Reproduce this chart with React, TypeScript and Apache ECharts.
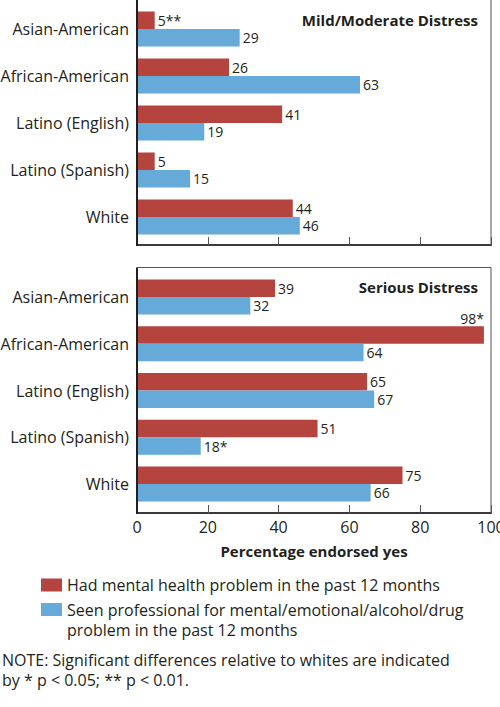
import React, { useEffect, useRef } from "react";
import * as echarts from "echarts";

const categories = ["Asian-American", "African-American", "Latino (English)", "Latino (Spanish)", "White"];
const seriesNames = [
  "Had mental health problem in the past 12 months",
  "Seen professional for mental/emotional/alcohol/drug problem in the past 12 months",
];
const panelTitles = ["Mild/Moderate Distress", "Serious Distress"];
// Mild/Moderate distress
const mildProblem = [5, 26, 41, 5, 44];
const mildSeen = [29, 63, 19, 15, 46];
const mildProblemSig = ["**", "", "", "", ""];
const mildSeenSig = ["", "", "", "", ""];
// Serious distress
const seriousProblem = [39, 98, 65, 51, 75];
const seriousSeen = [32, 64, 67, 18, 66];
const seriousProblemSig = ["", "*", "", "", ""];
const seriousSeenSig = ["", "", "", "*", ""];
const xTicks = [0, 20, 40, 60, 80, 100];
const axisTitle = "Percentage endorsed yes";
const noteLines = [
  "NOTE: Significant differences relative to whites are indicated",
  "by * p < 0.05; ** p < 0.01.",
];

const RED = "#b5443f";
const BLUE = "#65aad8";
const INK = "#231f20";
const FONT = "Open Sans";

export default function App() {
  const ref = useRef<HTMLDivElement>(null);
  useEffect(() => {
    document.body.style.margin = "0";
    if (!ref.current) return;
    const chart = echarts.init(ref.current, undefined, { renderer: "svg" });
    const L = 137, W = 354;
    const grids = [
      { left: L, top: 5.5, width: W, height: 235, outerBoundsMode: "none", containLabel: false },
      { left: L, top: 273.5, width: W, height: 234, outerBoundsMode: "none", containLabel: false },
    ];
    const boxes = [
      { top: -2, bottom: 245 },
      { top: 267.5, bottom: 513 },
    ];
    const mkData = (vals: number[], sig: string[]) =>
      vals.map((v, i) => {
        const item: any = { value: v, sig: sig[i] };
        if (v > 90) {
          item.label = { position: ["100%", -1], align: "right", verticalAlign: "bottom", distance: 0 };
        }
        return item;
      });
    const labelCfg = {
      show: true,
      position: "right",
      distance: 3,
      fontFamily: FONT,
      fontSize: 14,
      color: INK,
      formatter: (p: any) => `${p.value}${p.data.sig || ""}`,
    };
    const mkSeries = (name: string, vals: number[], sig: string[], color: string, gi: number) => ({
      type: "bar",
      name,
      xAxisIndex: gi,
      yAxisIndex: gi,
      data: mkData(vals, sig),
      barWidth: 17.5,
      barGap: "0%",
      itemStyle: { color },
      label: labelCfg,
      z: 2,
    });
    const xMax = xTicks[xTicks.length - 1];
    const xInterval = xTicks[1] - xTicks[0];
    const titleStyle = { fontFamily: FONT, fontSize: 15, fontWeight: "bold", color: INK, lineHeight: 18 };
    const legendText = { fontFamily: FONT, fontSize: 16, color: INK, lineHeight: 20 };
    const option: any = {
      animation: false,
      textStyle: { fontFamily: FONT },
      grid: grids,
      title: [
        { text: panelTitles[0], right: 22, top: 11, padding: 0, textStyle: titleStyle },
        { text: panelTitles[1], right: 22, top: 278, padding: 0, textStyle: titleStyle },
      ],
      legend: [
        {
          data: [seriesNames[0]],
          orient: "vertical",
          left: 41,
          top: 575,
          padding: 0,
          icon: "rect",
          itemWidth: 21,
          itemHeight: 13,
          selectedMode: false,
          textStyle: legendText,
        },
        {
          data: [seriesNames[1]],
          orient: "vertical",
          left: 41,
          top: 579.5,
          padding: 0,
          icon: "rect",
          itemWidth: 21,
          itemHeight: 13,
          selectedMode: false,
          formatter: (n: string) => "\n" + n.replace(" problem", "\nproblem"),
          textStyle: legendText,
        },
      ],
      xAxis: [0, 1].map((gi) => ({
        type: "value",
        gridIndex: gi,
        min: 0,
        max: xMax,
        interval: xInterval,
        position: "bottom",
        offset: gi === 0 ? 4.5 : 5.5,
        splitLine: { show: false },
        axisLine: { show: true, onZero: false, lineStyle: { color: INK, width: 2 } },
        axisTick: { show: true, inside: true, length: 8, lineStyle: { color: "#555", width: 1 } },
        axisLabel: { show: gi === 1, fontFamily: FONT, fontSize: 16, color: INK, margin: 6 },
        name: gi === 1 ? axisTitle : "",
        nameLocation: "middle",
        nameGap: 30,
        nameTextStyle: { fontFamily: FONT, fontSize: 15, fontWeight: "bold", color: INK },
      })),
      yAxis: [0, 1].map((gi) => ({
        type: "category",
        gridIndex: gi,
        data: categories,
        inverse: true,
        axisLine: { show: false },
        axisTick: { show: false },
        axisLabel: { fontFamily: FONT, fontSize: 16, color: INK, margin: 8 },
      })),
      series: [
        mkSeries(seriesNames[0], mildProblem, mildProblemSig, RED, 0),
        mkSeries(seriesNames[1], mildSeen, mildSeenSig, BLUE, 0),
        mkSeries(seriesNames[0], seriousProblem, seriousProblemSig, RED, 1),
        mkSeries(seriesNames[1], seriousSeen, seriousSeenSig, BLUE, 1),
      ],
      graphic: [
        ...boxes.flatMap((b) => [
          {
            type: "rect",
            z: 10,
            silent: true,
            shape: { x: L + 0.5, y: b.top, width: W - 0.5, height: b.bottom - b.top },
            style: { fill: "none", stroke: "#555", lineWidth: 1 },
          },
          {
            type: "line",
            z: 11,
            silent: true,
            shape: { x1: L, y1: b.top, x2: L, y2: b.bottom + 1 },
            style: { stroke: INK, lineWidth: 2 },
          },
        ]),
        {
          type: "text",
          left: 2,
          top: 650,
          style: {
            text: noteLines.join("\n"),
            fontFamily: FONT,
            fontSize: 16,
            lineHeight: 20,
            fill: INK,
          },
        },
      ],
    };
    chart.setOption(option);
    return () => chart.dispose();
  }, []);
  return <div ref={ref} style={{ width: 500, height: 707 }} />;
}
